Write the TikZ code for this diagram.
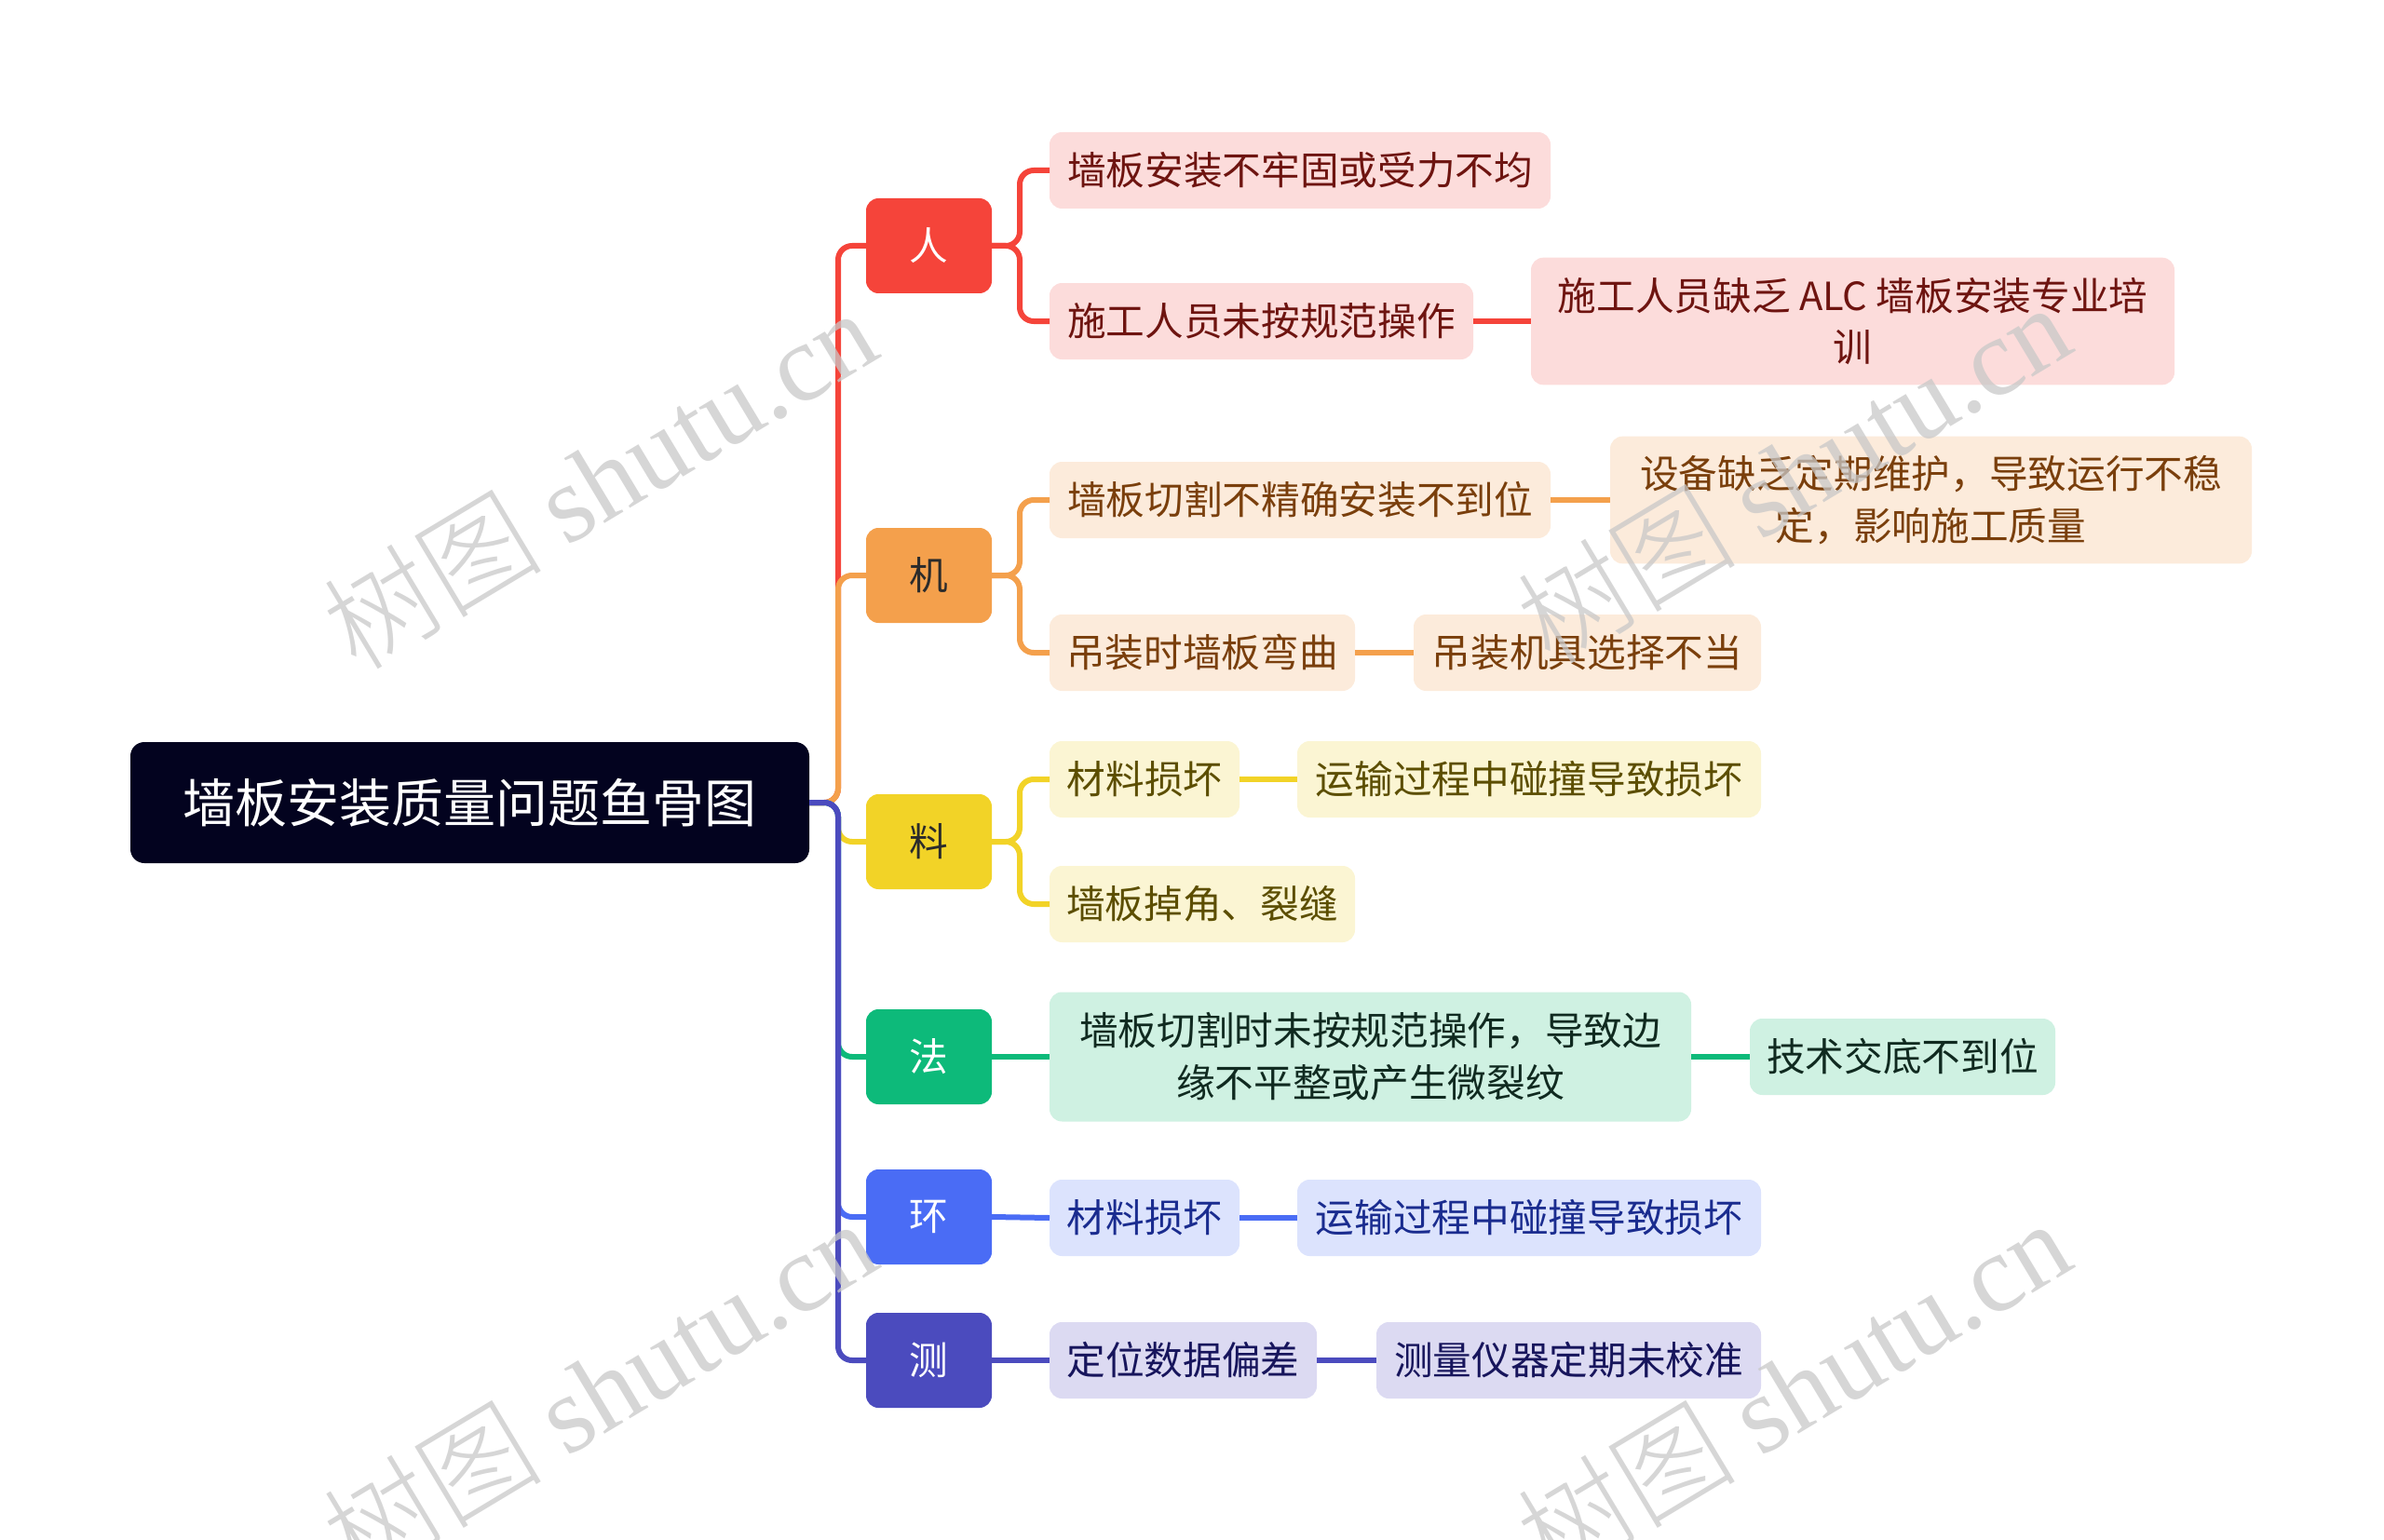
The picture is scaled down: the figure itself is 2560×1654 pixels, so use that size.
\documentclass[tikz,border=0pt]{standalone}
\usepackage{fontspec}
\setmainfont{Noto Sans CJK SC}
\newfontfamily\wmserif{Liberation Serif}
\newfontfamily\wmcjk{Noto Sans CJK SC Light}
\definecolor{RootC}{HTML}{03031F}
\definecolor{RenC}{HTML}{F5443A}
\definecolor{RenF}{HTML}{FCDCDB}
\definecolor{RenT}{HTML}{6E1410}
\definecolor{JiC}{HTML}{F4A04C}
\definecolor{JiF}{HTML}{FCEBDB}
\definecolor{JiT}{HTML}{7A3F0C}
\definecolor{LiaoC}{HTML}{F2D327}
\definecolor{LiaoF}{HTML}{FBF5D3}
\definecolor{LiaoT}{HTML}{5C4E00}
\definecolor{FaC}{HTML}{0DBA7A}
\definecolor{FaF}{HTML}{CFF1E2}
\definecolor{FaT}{HTML}{102A20}
\definecolor{HuanC}{HTML}{4A6CF5}
\definecolor{HuanF}{HTML}{DCE3FD}
\definecolor{HuanT}{HTML}{1A2C8F}
\definecolor{CeC}{HTML}{4B4BBE}
\definecolor{CeF}{HTML}{DCDAF2}
\definecolor{CeT}{HTML}{17155C}
\definecolor{CatDark}{HTML}{2B2B2B}
\definecolor{WM}{HTML}{C8C8C8}
\begin{document}
\begin{tikzpicture}[x=0.3pt,y=-0.3pt,
  every node/.style={inner sep=0pt, outer sep=0pt},
  nbox/.style={rounded corners=4pt, anchor=west, align=center,
    font=\fontsize{12.5}{16.7}\selectfont, minimum height=24.6pt},
  twoline/.style={minimum height=41pt},
  catbox/.style={nbox, minimum width=40.5pt, minimum height=30.6pt},
  link/.style={line width=1.8pt, rounded corners=4.5pt},
  ren/.style={nbox, fill=RenF, text=RenT},
  ji/.style={nbox, fill=JiF, text=JiT},
  liao/.style={nbox, fill=LiaoF, text=LiaoT},
  fa/.style={nbox, fill=FaF, text=FaT},
  huan/.style={nbox, fill=HuanF, text=HuanT},
  ce/.style={nbox, fill=CeF, text=CeT},
  wmark/.style={rotate=31, text=WM, opacity=0.75, font=\fontsize{35.5}{38}\selectfont}
]
\useasboundingbox (0,0) rectangle (2560,1654);

% root
\node[fill=RootC, text=white, rounded corners=4.5pt, anchor=west,
  minimum width=218.7pt, minimum height=39pt,
  font=\fontsize{16.8}{20}\selectfont] (root) at (140,862) {墙板安装质量问题鱼骨图};

% categories
\node[catbox, fill=RenC, text=white] (cren) at (930,264) {人};
\node[catbox, fill=JiC, text=CatDark] (cji) at (930,618) {机};
\node[catbox, fill=LiaoC, text=CatDark] (cliao) at (930,904) {料};
\node[catbox, fill=FaC, text=white] (cfa) at (930,1135) {法};
\node[catbox, fill=HuanC, text=white] (chuan) at (930,1307) {环};
\node[catbox, fill=CeC, text=white] (cce) at (930,1461) {测};

% level 2 / 3
\node[ren, minimum width=161.4pt] (a1) at (1127,183) {墙板安装不牢固或受力不均};
\node[ren, minimum width=136.5pt] (a2) at (1127,345) {施工人员未按规范操作};
\node[ren, twoline, minimum width=207.3pt] (a2c) at (1644,345) {施工人员缺乏 ALC 墙板安装专业培\\训};

\node[ji, minimum width=161.4pt] (b1) at (1127,537) {墙板切割不精确安装不到位};
\node[ji, twoline, minimum width=206.7pt] (b1c) at (1729,537) {设备缺乏定期维护，导致运行不稳\\定，影响施工质量};
\node[ji, minimum width=98.4pt] (b2) at (1127,701) {吊装时墙板弯曲};
\node[ji, minimum width=111.9pt] (b2c) at (1518,701) {吊装机具选择不当};

\node[liao, minimum width=61.2pt] (c1) at (1127,837) {材料损坏};
\node[liao, minimum width=149.4pt] (c1c) at (1393,837) {运输过程中碰撞导致损坏};
\node[liao, minimum width=98.4pt] (c2) at (1127,971) {墙板掉角、裂缝};

\node[fa, twoline, minimum width=206.7pt, minimum height=41.7pt] (d1) at (1127,1135) {墙板切割时未按规范操作，导致边\\缘不平整或产生微裂纹};
\node[fa, minimum width=98.4pt] (d1c) at (1879,1135) {技术交底不到位};

\node[huan, minimum width=61.2pt] (e1) at (1127,1308) {材料损坏};
\node[huan, minimum width=149.4pt] (e1c) at (1393,1308) {运输过程中碰撞导致损坏};

\node[ce, minimum width=86.1pt] (f1) at (1127,1461) {定位数据偏差};
\node[ce, minimum width=123.9pt] (f1c) at (1478,1461) {测量仪器定期未校准};

% root to categories
\draw[link, RenC] (root.east) -- ++(31,0) |- (cren.west);
\draw[link, JiC] (root.east) -- ++(31,0) |- (cji.west);
\draw[link, LiaoC] (root.east) -- ++(31,0) |- (cliao.west);
\draw[link, FaC] (root.east) -- ++(31,0) |- (cfa.west);
\draw[link, HuanC] (root.east) -- ++(31,0) |- (chuan.west);
\draw[link, CeC] (root.east) -- ++(31,0) |- (cce.west);

% categories to level 2
\draw[link, RenC] (cren.east) -- ++(30,0) |- (a1.west);
\draw[link, RenC] (cren.east) -- ++(30,0) |- (a2.west);
\draw[link, JiC] (cji.east) -- ++(30,0) |- (b1.west);
\draw[link, JiC] (cji.east) -- ++(30,0) |- (b2.west);
\draw[link, LiaoC] (cliao.east) -- ++(30,0) |- (c1.west);
\draw[link, LiaoC] (cliao.east) -- ++(30,0) |- (c2.west);
\draw[link, FaC] (cfa.east) -- (d1.west);
\draw[link, HuanC] (chuan.east) -- (e1.west);
\draw[link, CeC] (cce.east) -- (f1.west);

% level 2 to level 3
\draw[link, RenC] (a2.east) -- (a2c.west);
\draw[link, JiC] (b1.east) -- (b1c.west);
\draw[link, JiC] (b2.east) -- (b2c.west);
\draw[link, LiaoC] (c1.east) -- (c1c.west);
\draw[link, FaC] (d1.east) -- (d1c.west);
\draw[link, HuanC] (e1.east) -- (e1c.west);
\draw[link, CeC] (f1.east) -- (f1c.west);

% watermarks
\node[wmark] (wm1) at (643,514) {\wmcjk 树图 \wmserif shutu.cn};
\node[wmark] (wm2) at (1925,508) {\wmcjk 树图 \wmserif shutu.cn};
\node[wmark] (wm3) at (643,1492) {\wmcjk 树图 \wmserif shutu.cn};
\node[wmark] (wm4) at (1925,1492) {\wmcjk 树图 \wmserif shutu.cn};
\end{tikzpicture}
\end{document}
